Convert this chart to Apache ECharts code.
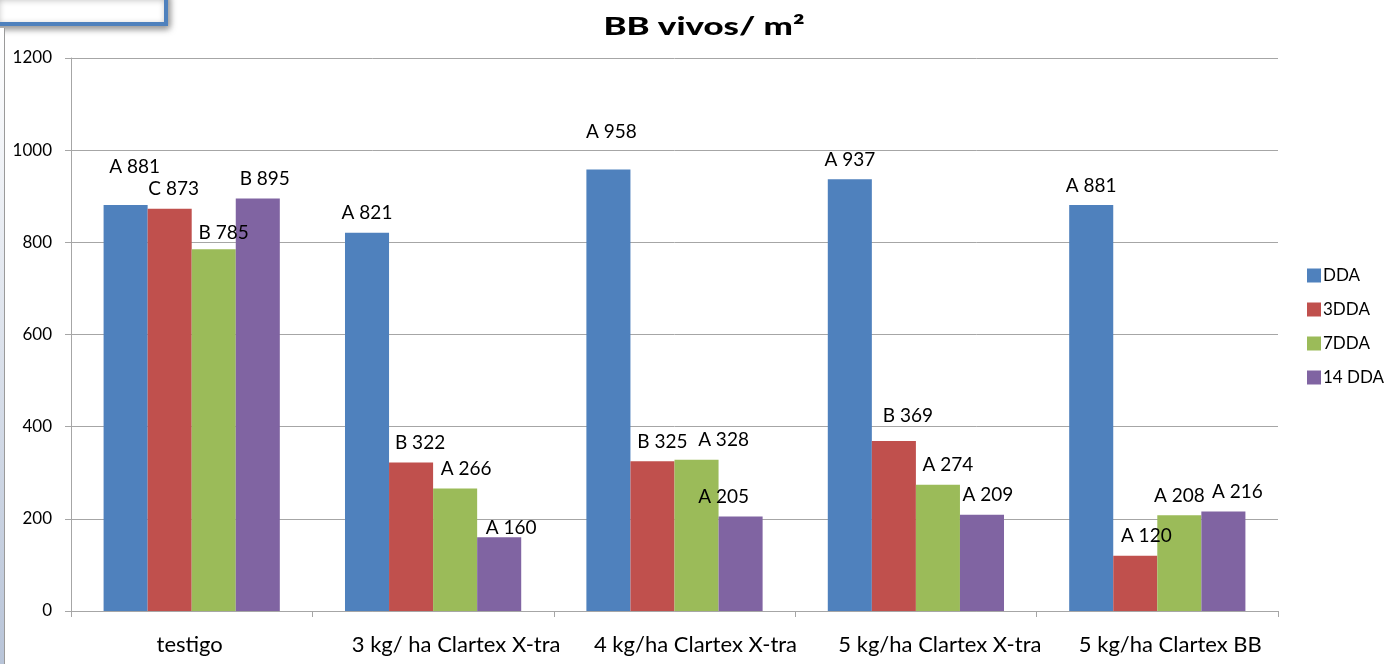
<!DOCTYPE html>
<html><head><meta charset="utf-8">
<script src="https://cdn.jsdelivr.net/npm/echarts@6/dist/echarts.min.js"></script>
<style>html,body{margin:0;padding:0;background:#fff}#c{width:1384px;height:664px}</style>
</head><body><div id="c"></div>
<script>
const categories = ['testigo', '3 kg/ ha Clartex X-tra', '4 kg/ha Clartex X-tra', '5 kg/ha Clartex X-tra', '5 kg/ha Clartex BB'];
const seriesNames = ['DDA', '3DDA', '7DDA', '14 DDA'];
const dda = [881, 821, 958, 937, 881];
const dda3 = [873, 322, 325, 369, 120];
const dda7 = [785, 266, 328, 274, 208];
const dda14 = [895, 160, 205, 209, 216];
const lettersDda = ['A', 'A', 'A', 'A', 'A'];
const letters3 = ['C', 'B', 'B', 'B', 'A'];
const letters7 = ['B', 'A', 'A', 'A', 'A'];
const letters14 = ['B', 'A', 'A', 'A', 'A'];
const yTicks = [0, 200, 400, 600, 800, 1000, 1200];
const titleText = 'BB vivos/ m²';

const colors = ['#4F81BD', '#C0504D', '#9BBB59', '#8064A2'];
// label offsets (styling only)
const offs = [
  [[9,-19],[0,0],[3,-18],[0,0],[0,0]],
  [[4,0],[9,0],[10,0],[14,-6],[11,0]],
  [[10,3],[11,0],[27,0],[10,0],[0,0]],
  [[7,0],[12,10],[-17,0],[6,0],[14,0]]
];
// horizontal shift of category labels (styling only)
const catShift = [-2, 23, 21, 24, 13];
const vals = [dda, dda3, dda7, dda14];
const lets = [lettersDda, letters3, letters7, letters14];
const font = 'Lato, "Open Sans", sans-serif';

const series = vals.map((v, si) => ({
  name: seriesNames[si],
  type: 'bar',
  barGap: '0%',
  barCategoryGap: '27%',
  itemStyle: { color: colors[si] },
  data: v.map((d, i) => ({
    value: d,
    label: { offset: offs[si][i] }
  })),
  label: {
    show: true, position: 'top', distance: 10,
    color: '#000', fontSize: 19, fontFamily: font,
    formatter: p => lets[si][p.dataIndex] + ' ' + p.value
  }
}));

const catData = categories.map((c, i) => ({
  value: c,
  textStyle: { padding: catShift[i] >= 0 ? [0, 0, 0, catShift[i] * 2] : [0, -catShift[i] * 2, 0, 0] }
}));

const chart = echarts.init(document.getElementById('c'));
chart.setOption({
  animation: false,
  color: colors,
  legend: {
    orient: 'vertical', left: 1302, top: 262, itemWidth: 14, itemHeight: 14, itemGap: 17,
    icon: 'rect',
    textStyle: { fontSize: 17, fontFamily: font, color: '#000', padding: [0, 0, 0, -3] },
    data: seriesNames
  },
  grid: { left: 71, right: 106, top: 58, bottom: 53 },
  xAxis: {
    type: 'category', data: catData,
    axisLine: { lineStyle: { color: '#a6a6a6', width: 1 } },
    axisTick: { show: true, length: 6, lineStyle: { color: '#a6a6a6' } },
    axisLabel: { color: '#000', fontSize: 22, fontFamily: font, margin: 23, interval: 0 }
  },
  yAxis: {
    type: 'value', min: 0, max: 1200, interval: 200,
    axisLine: { show: true, lineStyle: { color: '#a6a6a6' } },
    axisTick: { show: true, length: 6, lineStyle: { color: '#a6a6a6' } },
    splitLine: { lineStyle: { color: '#a6a6a6' } },
    axisLabel: { color: '#000', fontSize: 17, fontFamily: font, margin: 19,
      formatter: v => yTicks.includes(v) ? String(v) : '' }
  },
  graphic: [
    { type: 'rect', shape: { x: -6, y: -6, width: 172, height: 30 },
      style: { fill: '#fff', stroke: '#4F81BD', lineWidth: 4, shadowBlur: 7, shadowColor: 'rgba(0,0,0,0.4)', shadowOffsetX: 2, shadowOffsetY: 3 } },
    { type: 'rect', shape: { x: 0, y: 28, width: 4, height: 640 },
      style: { fill: new echarts.graphic.LinearGradient(0, 0, 0, 1, [{ offset: 0, color: '#ffffff' }, { offset: 1, color: '#b8c4d8' }]) } },
    { type: 'line', shape: { x1: 4.5, y1: 28, x2: 4.5, y2: 664 }, style: { stroke: '#9a9a9a', lineWidth: 1 } },
    { type: 'text', x: 704, y: 27, scaleX: 1.45,
      style: { text: titleText, font: '900 24px Lato, "Open Sans", sans-serif', fill: '#000', textAlign: 'center', textVerticalAlign: 'middle' } }
  ],
  series
});
</script></body></html>
